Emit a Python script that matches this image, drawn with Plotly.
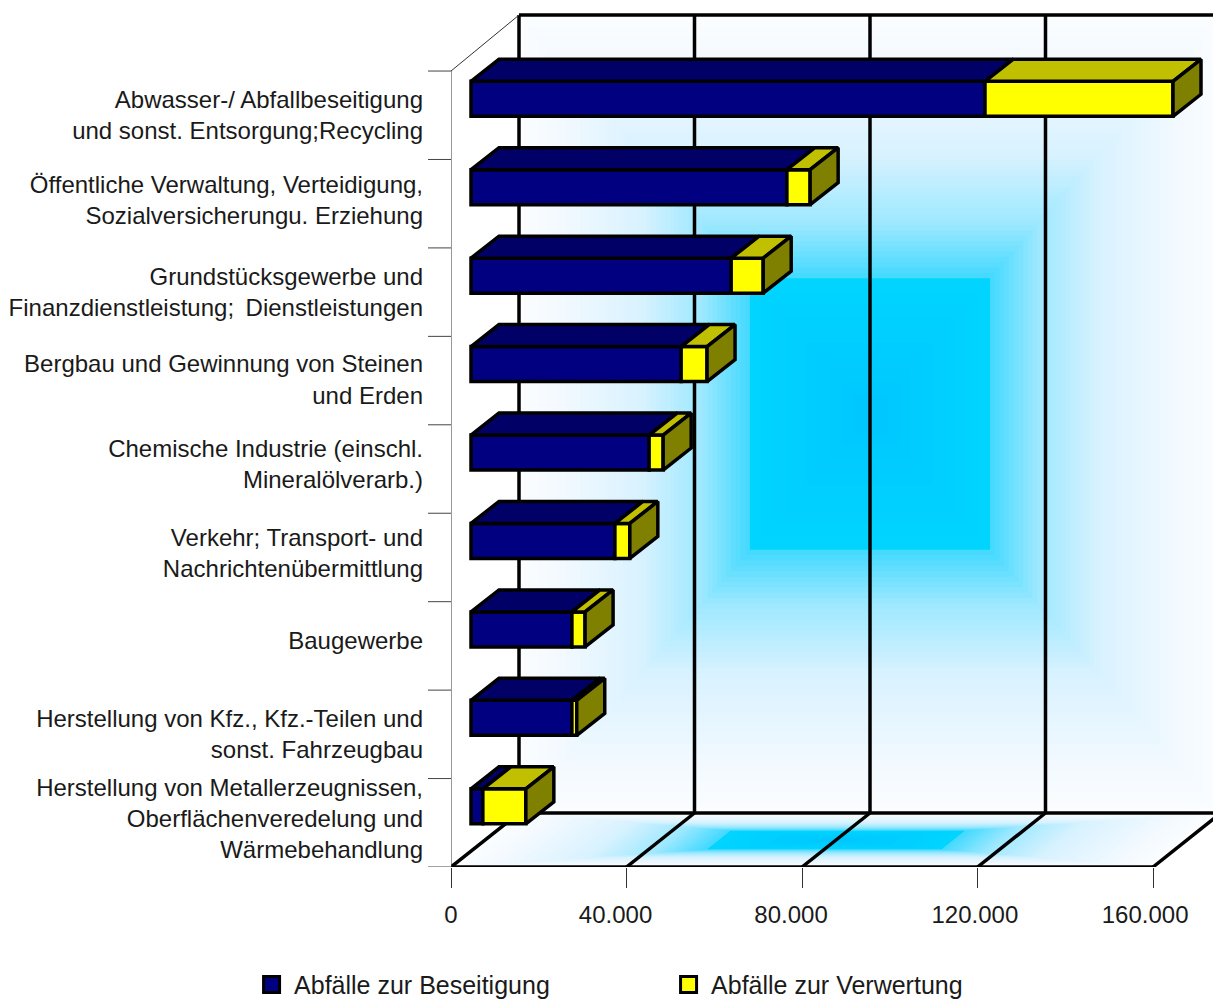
import numpy as np
import plotly.graph_objects as go

labels = [
    "Abwasser-/ Abfallbeseitigung<br>und sonst. Entsorgung;Recycling",
    "Öffentliche Verwaltung, Verteidigung,<br>Sozialversicherungu. Erziehung",
    "Grundstücksgewerbe und<br>Finanzdienstleistung; \u2009Dienstleistungen",
    "Bergbau und Gewinnung von Steinen<br>und Erden",
    "Chemische Industrie (einschl.<br>Mineralölverarb.)",
    "Verkehr; Transport- und<br>Nachrichtenübermittlung",
    "Baugewerbe",
    "Herstellung von Kfz., Kfz.-Teilen und<br>sonst. Fahrzeugbau",
    "Herstellung von Metallerzeugnissen,<br>Oberflächenveredelung und<br>Wärmebehandlung",
]
beseitigung = [117150, 72000, 59300, 47900, 40600, 32800, 23000, 23000, 2700]
verwertung = [42850, 5300, 7300, 5900, 3200, 3400, 3000, 1100, 9800]
x_ticks = [0, 40000, 80000, 120000, 160000]
x_ticktext = ["0", "40.000", "80.000", "120.000", "160.000"]
x_label_pos = [0, 37500, 77500, 119400, 158200]
label_shift = [0.0, -0.045, 0.0, -0.012, -0.055, -0.045, -0.055, 0.0, -0.05]

W, H = 1213, 999
L, B = 451, 132
PX_X = 160000 / 702      # value units per pixel
PX_Y = 1 / 88.44         # category units per pixel
n = len(labels)
xr = [0, (W - L) * PX_X]
yr = [n, n - (H - B) * PX_Y]

wall_dx = 68 * PX_X
wall_top = -56 * PX_Y
floor_back = n - 54 * PX_Y
bar_dx = 20 * PX_X
bar_dy = -16.5 * PX_Y
bar_h = 35 * PX_Y
top_dx = 28 * PX_X
top_dy = -22 * PX_Y

FONT = "Liberation Sans, Arial, sans-serif"
TXT = "#1a1a1a"

stops_s = [0, 0.18, 0.52, 0.78, 0.98, 1.0, 2.0]
stops_c = np.array([[251, 253, 255], [242, 249, 255], [216, 242, 255],
                    [158, 232, 255], [70, 218, 255], [0, 212, 255], [0, 198, 255]])


def ring_colour(s):
    c = [np.interp(s, stops_s, stops_c[:, k]) for k in range(3)]
    return "rgb(%d,%d,%d)" % tuple(int(round(v)) for v in c)


def inset(s, a):
    return a * s if s <= 1 else a + (0.5 - a) * (s - 1)


shapes = []
levels = list(np.linspace(0, 1, 50)) + list(np.linspace(1.1, 1.95, 10))

# back wall gradient (nested rectangles)
for s in levels:
    u = inset(s, 0.329)
    v = inset(s, 0.33)
    x0 = wall_dx + u * 160000
    x1 = wall_dx + (1 - u) * 160000
    y0 = wall_top + v * (floor_back - wall_top)
    y1 = wall_top + (1 - v) * (floor_back - wall_top)
    shapes.append(dict(type="rect", x0=x0, x1=x1, y0=y0, y1=y1, xref="x", yref="y",
                       line_width=0, fillcolor=ring_colour(s), layer="below"))

# floor gradient (nested parallelograms)
for s in levels:
    u = inset(s, 0.333)
    v = inset(s, 0.33)
    pts = []
    for uu, vv in [(u, v), (1 - u, v), (1 - u, 1 - v), (u, 1 - v)]:
        px = uu * 160000 + vv * wall_dx
        py = n + vv * (floor_back - n)
        pts.append((px, py))
    path = "M" + " L".join(f"{a},{b}" for a, b in pts) + " Z"
    shapes.append(dict(type="path", path=path, xref="x", yref="y",
                       line_width=0, fillcolor=ring_colour(s), layer="below"))


def seg(x0, y0, x1, y1, w=3.5, c="#000000"):
    shapes.append(dict(type="line", x0=x0, y0=y0, x1=x1, y1=y1, xref="x", yref="y",
                       line=dict(color=c, width=w), layer="below"))


# frame: back wall, gridlines, floor
seg(wall_dx, wall_top, xr[1], wall_top)
seg(wall_dx, floor_back, xr[1], floor_back)
seg(0, n, 160000, n)
for t in x_ticks:
    seg(t + wall_dx, wall_top, t + wall_dx, floor_back)
    seg(t, n, t + wall_dx, floor_back)
# left side
seg(0, 0, 0, n, 1, "#333333")
seg(0, 0, wall_dx, wall_top, 1, "#333333")
for i in range(n + 1):
    shapes.append(dict(type="line", xref="paper", yref="y", x0=-23 / (W - L), x1=0,
                       y0=i, y1=i, line=dict(color="#444444", width=1)))

centres = [i + 0.5 + bar_dy for i in range(n)]
ends_b = [v + bar_dx for v in beseitigung]
ends_v = [a + b for a, b in zip(ends_b, verwertung)]


def top_polys(starts, ends):
    xs, ys = [], []
    for c, a, b in zip(centres, starts, ends):
        y = c - bar_h / 2
        xs += [a, b, b + top_dx, a + top_dx, a, None]
        ys += [y, y, y + top_dy, y + top_dy, y, None]
    return xs, ys


def side_polys(ends):
    xs, ys = [], []
    for c, b in zip(centres, ends):
        y0, y1 = c - bar_h / 2, c + bar_h / 2
        xs += [b, b + top_dx, b + top_dx, b, b, None]
        ys += [y0, y0 + top_dy, y1 + top_dy, y1, y0, None]
    return xs, ys


fig = go.Figure()
LINE = dict(color="#000000", width=3.5)


def poly(xy, colour):
    fig.add_trace(go.Scatter(x=xy[0], y=xy[1], mode="lines", fill="toself", fillcolor=colour,
                             line=dict(color="#000000", width=3.5, simplify=False),
                             showlegend=False, hoverinfo="skip"))


fig.add_trace(go.Bar(orientation="h", y=centres, x=beseitigung, base=[bar_dx] * n, width=bar_h,
                     marker=dict(color="#000080", line=LINE), showlegend=False))
fig.add_trace(go.Bar(orientation="h", y=centres, x=verwertung, base=ends_b, width=bar_h,
                     marker=dict(color="#ffff00", line=LINE), showlegend=False))
poly(top_polys([bar_dx] * n, ends_b), "#000066")
poly(top_polys(ends_b, ends_v), "#c0c000")
poly(side_polys(ends_v), "#808000")

for name, col in [("Abfälle zur Beseitigung", "#000080"), ("Abfälle zur Verwertung", "#ffff00")]:
    fig.add_trace(go.Scatter(x=[None], y=[None], xaxis="x2", mode="markers", name=name,
                             marker=dict(symbol="square", size=18, color=col,
                                         line=dict(color="#000000", width=3))))

fig.update_layout(
    width=W, height=H, autosize=False,
    margin=dict(l=L, r=0, t=0, b=B, pad=0, autoexpand=False),
    paper_bgcolor="#ffffff", plot_bgcolor="rgba(0,0,0,0)",
    barmode="overlay", shapes=shapes,
    font=dict(family=FONT, size=24, color=TXT),
    legend=dict(orientation="h", x=-0.265, xanchor="left", y=-0.1092, yanchor="top",
                entrywidth=367, entrywidthmode="pixels", itemsizing="trace", itemwidth=35,
                font=dict(family=FONT, size=25, color=TXT), bgcolor="rgba(0,0,0,0)",
                traceorder="normal"),
    xaxis=dict(range=xr, tickmode="array", tickvals=x_ticks, ticktext=[""] * len(x_ticks),
               showgrid=False, zeroline=False, showline=False, ticks="outside", ticklen=20,
               tickwidth=1, tickcolor="#333333", fixedrange=True),
    xaxis2=dict(range=xr, overlaying="x", side="bottom", tickmode="array", tickvals=x_label_pos,
                ticktext=x_ticktext, showgrid=False, zeroline=False, showline=False,
                ticks="outside", ticklen=26, tickcolor="rgba(0,0,0,0)", fixedrange=True),
    yaxis=dict(range=yr, tickmode="array", tickvals=[i + 0.5 + s for i, s in enumerate(label_shift)],
               ticktext=labels, showgrid=False, zeroline=False, showline=False, ticks="",
               ticklabelstandoff=27, fixedrange=True),
)

fig.write_html("out.html", config=dict(displayModeBar=False),
               post_script="document.body.style.margin='0';document.documentElement.style.overflow='hidden';")
